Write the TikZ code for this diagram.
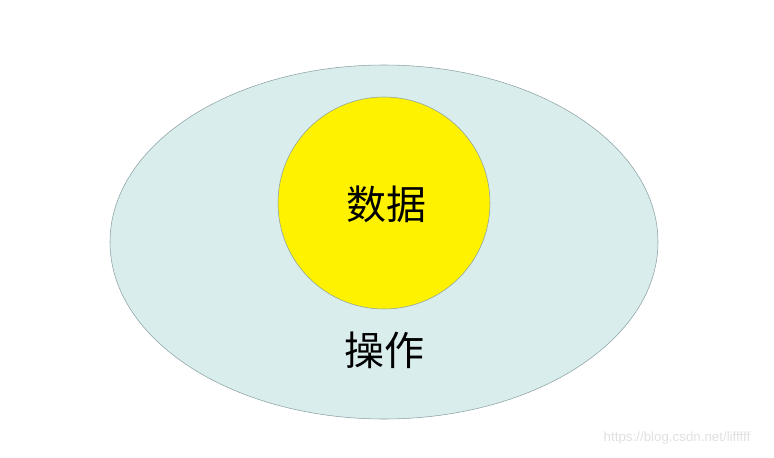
\documentclass[tikz,border=0pt]{standalone}
\usepackage{fontspec}
\usetikzlibrary{shapes.geometric}
\newfontfamily\cjk{Noto Sans CJK SC}
\setmainfont{Liberation Sans}
\begin{document}
\begin{tikzpicture}[x=0.75pt,y=-0.75pt]
\useasboundingbox (0,0) rectangle (774,457);
\definecolor{opfill}{HTML}{DAEDED}
\definecolor{edge}{HTML}{8AA0A3}
\node[draw=edge,fill=opfill,ellipse,minimum width=548*0.75pt,minimum height=354*0.75pt,inner sep=0pt] (op) at (384,242) {};
\node[draw=edge,fill=yellow,circle,minimum size=212*0.75pt,inner sep=0pt] (data) at (384,203) {};
\node[font=\cjk\fontsize{30}{30}\selectfont] (t1) at (386,204) {数据};
\node[font=\cjk\fontsize{30}{30}\selectfont] (t2) at (384,350) {操作};
\node[font=\fontsize{10}{10}\selectfont,text=black!12] (wm) at (677,438) {https://blog.csdn.net/lifffff};
\end{tikzpicture}
\end{document}
